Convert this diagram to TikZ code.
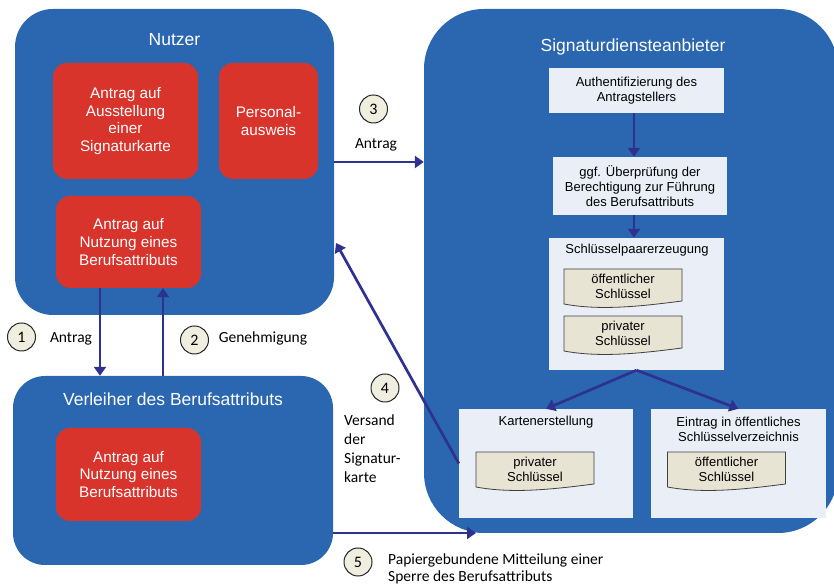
\documentclass[tikz,border=0pt]{standalone}
\usepackage{fontspec}
\setmainfont{Liberation Sans}
\newfontfamily\calfont{Carlito}
\usetikzlibrary{arrows.meta}
\definecolor{boxblue}{HTML}{2B67B1}
\definecolor{boxred}{HTML}{D8342C}
\definecolor{stepfill}{HTML}{E9EEF7}
\definecolor{keyfill}{HTML}{E7E4D3}
\definecolor{arrownavy}{HTML}{2D3190}
\definecolor{numfill}{HTML}{EFEEDF}
\newcommand\KeyDoc[4]{%
  \filldraw[keydoc] (#2-59,#3) -- (#2+59,#3) -- (#2+59,#3-32)
    .. controls (#2+20,#3-37) and (#2-22,#3-42) .. (#2-59,#3-35) -- cycle;
  \node[keytext] (#1) at (#2,#3-17) {#4};
}

\begin{document}
\begin{tikzpicture}[x=1pt, y=1pt,
    party/.style={fill=boxblue, inner sep=0pt},
    partytitle/.style={text=white, font=\fontsize{17.5}{20}\selectfont},
    redbox/.style={fill=boxred, rounded corners=14pt, text=white, align=center,
      inner sep=0pt, font=\fontsize{15.3}{17.7}\selectfont},
    stepbox/.style={fill=stepfill, inner sep=0pt, align=center,
      font=\fontsize{13}{15}\selectfont},
    steptitle/.style={align=center, inner sep=0pt, font=\fontsize{13}{15}\selectfont},
    keydoc/.style={fill=keyfill, draw=black!75, line width=0.8pt},
    keytext/.style={align=center, inner sep=0pt, font=\fontsize{13}{15}\selectfont},
    flow/.style={draw=arrownavy, line width=2.7pt, -{Triangle[length=9pt, width=12pt]}},
    numcircle/.style={circle, draw=black!85, fill=numfill, line width=1pt,
      minimum size=28pt, inner sep=0pt, font=\calfont\fontsize{16}{16}\selectfont},
    flowlabel/.style={align=left, inner sep=0pt, font=\calfont\fontsize{15.5}{19}\selectfont}]
    \useasboundingbox (0,0) rectangle (834,585);

    \node[party, rounded corners=38pt, minimum width=319pt, minimum height=306pt] (nutzer) at (174.5,423) {};
    \node[party, rounded corners=32pt, minimum width=320pt, minimum height=189pt] (verleiher) at (173,114.5) {};
    \node[party, rounded corners=60pt, minimum width=414pt, minimum height=524pt] (sda) at (631,314) {};

    \node[partytitle] (nutzertitle) at (174.5,545) {Nutzer};
    \node[partytitle] (verleihertitle) at (173,186) {Verleiher des Berufsattributs};
    \node[partytitle] (sdatitle) at (633,538) {Signaturdiensteanbieter};

    \node[redbox, minimum width=145pt, minimum height=116pt] (karte) at (125.5,464) {Antrag auf\\Ausstellung\\einer\\Signaturkarte};
    \node[redbox, minimum width=99pt, minimum height=116pt] (ausweis) at (268.5,464) {Personal-\\ausweis};
    \node[redbox, minimum width=145pt, minimum height=92pt] (nutzantrag) at (128.5,343) {Antrag auf\\Nutzung eines\\Berufsattributs};
    \node[redbox, minimum width=145pt, minimum height=93pt] (verlantrag) at (128.5,110.5) {Antrag auf\\Nutzung eines\\Berufsattributs};

    \node[stepbox, minimum width=175pt, minimum height=45pt] (auth) at (636.5,494.5) {Authentifizierung des\\Antragstellers};
    \node[stepbox, minimum width=174pt, minimum height=58pt] (check) at (640,399) {ggf. Überprüfung der\\Berechtigung zur Führung\\des Berufsattributs};
    \node[stepbox, minimum width=175pt, minimum height=132pt] (keygen) at (636.5,281) {};
    \node[stepbox, minimum width=174pt, minimum height=109pt] (card) at (546,121.5) {};
    \node[stepbox, minimum width=175pt, minimum height=109pt] (dir) at (738.5,121.5) {};

    \node[steptitle] (keygentitle) at (637,335) {Schlüsselpaarerzeugung};
    \node[steptitle] (cardtitle) at (546,163) {Kartenerstellung};
    \node[steptitle] (dirtitle) at (738.5,155.5) {Eintrag in öffentliches\\Schlüsselverzeichnis};

    \KeyDoc{pubkey}{623}{316}{öffentlicher\\Schlüssel}
    \KeyDoc{privkey}{623}{269}{privater\\Schlüssel}
    \KeyDoc{cardkey}{535}{133}{privater\\Schlüssel}
    \KeyDoc{dirkey}{726.5}{133}{öffentlicher\\Schlüssel}

    \coordinate (antragx) at (100,0);
    \coordinate (genehmx) at (163,0);
    \coordinate (versandend) at (336,342);
    \coordinate (sperreend) at (476,52);

    \draw[flow] (nutzantrag.south -| antragx) -- (verleiher.north -| antragx);
    \draw[flow] (verleiher.north -| genehmx) -- (nutzantrag.south -| genehmx);
    \draw[flow] (nutzer.east) -- (nutzer.east -| sda.west);
    \draw[flow] (card.west) -- (versandend);
    \draw[flow] (sperreend -| verleiher.east) -- (sperreend);
    \draw[flow] (auth.south -| 634,0) -- (check.north -| 634,0);
    \draw[flow] (check.south -| 634,0) -- (keygen.north -| 634,0);
    \draw[flow] (keygen.south) -- (card.north);
    \draw[flow] (keygen.south) -- (dir.north);

    \node[numcircle] (n1) at (21.5,248) {1};
    \node[numcircle] (n2) at (194.5,245) {2};
    \node[numcircle] (n3) at (373.5,476) {3};
    \node[numcircle] (n4) at (385,197) {4};
    \node[numcircle] (n5) at (358,23) {5};

    \node[flowlabel] (l1) at (71,246) {Antrag};
    \node[flowlabel] (l2) at (263,247) {Genehmigung};
    \node[flowlabel] (l3) at (376,440) {Antrag};
    \node[flowlabel, anchor=west] (l4) at (344,136.5) {Versand\\der\\Signatur-\\karte};
    \node[flowlabel, anchor=north west, font=\calfont\fontsize{15.5}{16.5}\selectfont] (l5) at (388,31) {Papiergebundene Mitteilung einer\\Sperre des Berufsattributs};
\end{tikzpicture}
\end{document}
